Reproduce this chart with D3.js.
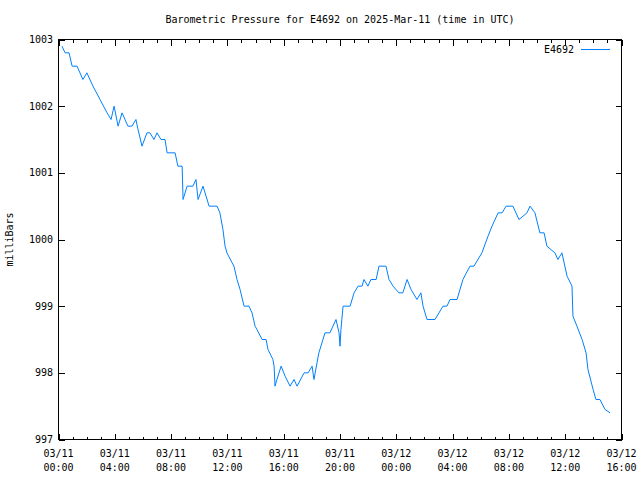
<!DOCTYPE html>
<html>
<head>
<meta charset="utf-8">
<script src="https://cdn.jsdelivr.net/npm/d3@7"></script>
<style>
  html, body { margin: 0; padding: 0; background: #fff; }
  svg { display: block; }
  text { font-family: "DejaVu Sans Mono", "Liberation Mono", monospace; font-size: 10px; fill: #000; }
</style>
</head>
<body>
<svg id="chart" width="640" height="480"></svg>
<script>
// ---- data ----
const title = "Barometric Pressure for E4692 on 2025-Mar-11 (time in UTC)";
const yLabel = "milliBars";
const seriesName = "E4692";
const timeDomain = ["2025-03-11 00:00", "2025-03-12 16:00"];
const pressureDomain = [997, 1003];
const pressureTicks = [997, 998, 999, 1000, 1001, 1002, 1003];

const times = [
  "2025-03-11 00:15","2025-03-11 00:28","2025-03-11 00:45","2025-03-11 00:58","2025-03-11 01:19",
  "2025-03-11 01:44","2025-03-11 02:01","2025-03-11 02:27","2025-03-11 02:57","2025-03-11 03:27",
  "2025-03-11 03:44","2025-03-11 03:57","2025-03-11 04:14","2025-03-11 04:31","2025-03-11 04:56",
  "2025-03-11 05:13","2025-03-11 05:30","2025-03-11 05:39","2025-03-11 05:56","2025-03-11 06:17",
  "2025-03-11 06:30","2025-03-11 06:47","2025-03-11 07:00","2025-03-11 07:17","2025-03-11 07:34",
  "2025-03-11 07:43","2025-03-11 08:17","2025-03-11 08:29","2025-03-11 08:47","2025-03-11 08:51",
  "2025-03-11 09:08","2025-03-11 09:33","2025-03-11 09:46","2025-03-11 09:55","2025-03-11 10:16",
  "2025-03-11 10:42","2025-03-11 11:16","2025-03-11 11:28","2025-03-11 11:41","2025-03-11 11:50",
  "2025-03-11 11:58","2025-03-11 12:20","2025-03-11 12:28","2025-03-11 12:41","2025-03-11 12:54",
  "2025-03-11 13:11","2025-03-11 13:32","2025-03-11 13:45","2025-03-11 13:58","2025-03-11 14:06",
  "2025-03-11 14:28","2025-03-11 14:45","2025-03-11 14:53","2025-03-11 15:14","2025-03-11 15:19",
  "2025-03-11 15:23","2025-03-11 15:31","2025-03-11 15:49","2025-03-11 16:06","2025-03-11 16:27",
  "2025-03-11 16:44","2025-03-11 16:57","2025-03-11 17:27","2025-03-11 17:44","2025-03-11 18:01",
  "2025-03-11 18:09","2025-03-11 18:22","2025-03-11 18:30","2025-03-11 18:56","2025-03-11 19:17",
  "2025-03-11 19:30","2025-03-11 19:43","2025-03-11 19:56","2025-03-11 20:00","2025-03-11 20:04",
  "2025-03-11 20:13","2025-03-11 20:43","2025-03-11 21:00","2025-03-11 21:17","2025-03-11 21:34",
  "2025-03-11 21:42","2025-03-11 21:59","2025-03-11 22:12","2025-03-11 22:34","2025-03-11 22:46",
  "2025-03-11 23:16","2025-03-11 23:29","2025-03-11 23:46","2025-03-12 00:11","2025-03-12 00:28",
  "2025-03-12 00:46","2025-03-12 01:03","2025-03-12 01:28","2025-03-12 01:45","2025-03-12 01:54",
  "2025-03-12 02:11","2025-03-12 02:45","2025-03-12 03:19","2025-03-12 03:36","2025-03-12 03:49",
  "2025-03-12 04:19","2025-03-12 04:44","2025-03-12 05:14","2025-03-12 05:31","2025-03-12 06:05",
  "2025-03-12 06:31","2025-03-12 06:48","2025-03-12 07:14","2025-03-12 07:31","2025-03-12 07:48",
  "2025-03-12 08:17","2025-03-12 08:43","2025-03-12 09:00","2025-03-12 09:17","2025-03-12 09:30",
  "2025-03-12 09:51","2025-03-12 10:12","2025-03-12 10:30","2025-03-12 10:42","2025-03-12 11:16",
  "2025-03-12 11:29","2025-03-12 11:46","2025-03-12 12:08","2025-03-12 12:29","2025-03-12 12:33",
  "2025-03-12 12:50","2025-03-12 13:12","2025-03-12 13:29","2025-03-12 13:37","2025-03-12 13:59",
  "2025-03-12 14:11","2025-03-12 14:28","2025-03-12 14:50","2025-03-12 15:11"
];
const pressure = [
  1002.9, 1002.8, 1002.8, 1002.6, 1002.6,
  1002.4, 1002.5, 1002.3, 1002.1, 1001.9,
  1001.8, 1002.0, 1001.7, 1001.9, 1001.7,
  1001.7, 1001.8, 1001.65, 1001.4, 1001.6,
  1001.6, 1001.5, 1001.6, 1001.5, 1001.5,
  1001.3, 1001.3, 1001.1, 1001.1, 1000.6,
  1000.8, 1000.8, 1000.9, 1000.6, 1000.8,
  1000.5, 1000.5, 1000.4, 1000.15, 999.9,
  999.8, 999.65, 999.6, 999.4, 999.25,
  999.0, 999.0, 998.9, 998.7, 998.65,
  998.5, 998.5, 998.35, 998.2, 998.1,
  997.8, 997.9, 998.1, 997.95, 997.8,
  997.9, 997.8, 998.0, 998.0, 998.1,
  997.9, 998.15, 998.3, 998.6, 998.6,
  998.7, 998.8, 998.6, 998.4, 998.65,
  999.0, 999.0, 999.2, 999.3, 999.3,
  999.4, 999.3, 999.4, 999.4, 999.6,
  999.6, 999.4, 999.3, 999.2, 999.2,
  999.4, 999.25, 999.1, 999.2, 999.0,
  998.8, 998.8, 999.0, 999.0, 999.1,
  999.1, 999.4, 999.6, 999.6, 999.8,
  1000.05, 1000.2, 1000.4, 1000.4, 1000.5,
  1000.5, 1000.3, 1000.35, 1000.4, 1000.5,
  1000.4, 1000.1, 1000.1, 999.9, 999.8,
  999.7, 999.8, 999.45, 999.3, 998.85,
  998.7, 998.5, 998.3, 998.05, 997.75,
  997.6, 997.6, 997.45, 997.4
];

// ---- drawing ----
const parse = d3.utcParse("%Y-%m-%d %H:%M");
const data = times.map((t, i) => ({ t: parse(t), v: pressure[i] }));

const L = 58.5, R = 621.5, T = 39.5, B = 439.5;
const svg = d3.select("#chart");

const x = d3.scaleUtc().domain(timeDomain.map(parse)).range([L, R]);
const y = d3.scaleLinear().domain(pressureDomain).range([B, T]);

const majorX = d3.utcHour.every(4).range(x.domain()[0], d3.utcMinute.offset(x.domain()[1], 1));
const minorX = d3.utcHour.every(1).range(x.domain()[0], d3.utcMinute.offset(x.domain()[1], 1));

const g = svg.append("g").attr("shape-rendering", "crispEdges");

// bottom and top axes with inward ticks
const fmtDate = d3.utcFormat("%m/%d"), fmtTime = d3.utcFormat("%H:%M");
const xBottom = d3.axisBottom(x).tickValues(majorX).tickSizeInner(-6).tickSizeOuter(0).tickFormat("");
const xBottomMinor = d3.axisBottom(x).tickValues(minorX).tickSizeInner(-3).tickSizeOuter(0).tickFormat("");
const xTop = d3.axisTop(x).tickValues(majorX).tickSizeInner(-6).tickSizeOuter(0).tickFormat("");
const xTopMinor = d3.axisTop(x).tickValues(minorX).tickSizeInner(-3).tickSizeOuter(0).tickFormat("");
const yLeft = d3.axisLeft(y).tickValues(pressureTicks).tickSizeInner(-6).tickSizeOuter(0).tickFormat("");
const yRight = d3.axisRight(y).tickValues(pressureTicks).tickSizeInner(-6).tickSizeOuter(0).tickFormat("");

[[xBottomMinor, `translate(0,${B})`], [xBottom, `translate(0,${B})`],
 [xTopMinor, `translate(0,${T})`], [xTop, `translate(0,${T})`],
 [yLeft, `translate(${L},0)`], [yRight, `translate(${R},0)`]].forEach(([ax, tr]) => {
  const a = g.append("g").attr("transform", tr).call(ax);
  a.select(".domain").remove();
  a.selectAll("line").attr("stroke", "#000");
});

// border
g.append("rect").attr("x", L).attr("y", T).attr("width", R - L).attr("height", B - T)
  .attr("fill", "none").attr("stroke", "#000");

// x tick labels (two lines)
const xl = svg.append("g").selectAll("text").data(majorX).join("text")
  .attr("text-anchor", "middle")
  .attr("x", d => x(d));
xl.append("tspan").attr("x", d => x(d)).attr("y", 457).text(d => fmtDate(d));
xl.append("tspan").attr("x", d => x(d)).attr("y", 471).text(d => fmtTime(d));

// y tick labels
svg.append("g").selectAll("text").data(pressureTicks).join("text")
  .attr("text-anchor", "end").attr("x", 53).attr("y", d => y(d) + 3.5)
  .text(d => d);

// title and axis label
svg.append("text").attr("x", (L + R) / 2).attr("y", 23).attr("text-anchor", "middle").text(title);
svg.append("text").attr("transform", `translate(13,${(T + B) / 2}) rotate(-90)`)
  .attr("text-anchor", "middle").text(yLabel);

// line
const line = d3.line().x(d => x(d.t)).y(d => y(d.v));
svg.append("path").datum(data).attr("d", line)
  .attr("fill", "none").attr("stroke", "#0080ff").attr("stroke-width", 1);

// legend
svg.append("text").attr("x", 574).attr("y", 53).attr("text-anchor", "end").text(seriesName);
svg.append("line").attr("x1", 581).attr("x2", 610).attr("y1", 49.5).attr("y2", 49.5)
  .attr("stroke", "#0080ff").attr("stroke-width", 1).attr("shape-rendering", "crispEdges");
</script>
</body>
</html>
